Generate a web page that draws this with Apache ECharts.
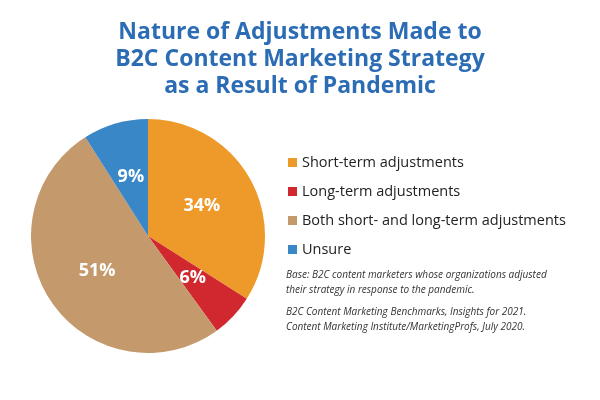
<!DOCTYPE html>
<html><head><meta charset="utf-8">
<script src="https://cdn.jsdelivr.net/npm/echarts@6/dist/echarts.min.js"></script>
<style>html,body{margin:0;padding:0;background:#fff}#c{width:600px;height:400px}</style>
</head><body><div id="c"></div>
<script>
const categories = ["Short-term adjustments","Long-term adjustments","Both short- and long-term adjustments","Unsure"];
const values = [34, 6, 51, 9];
const colors = ["#EE9A2A","#D0282E","#C49A6C","#3A87C8"];
const chart = echarts.init(document.getElementById('c'));
chart.setOption({
  animation:false,
  title:{text:"Nature of Adjustments Made to\nB2C Content Marketing Strategy\nas a Result of Pandemic",left:'center',top:14,
    textStyle:{color:'#2B6CB5',fontSize:23,fontWeight:'bold',lineHeight:27,fontFamily:'Open Sans'}},
  legend:{orient:'vertical',left:283,top:150,itemWidth:9,itemHeight:9,itemGap:14,icon:'rect',
    textStyle:{fontSize:14.5,color:'#222',fontFamily:'Open Sans'},data:categories},
  graphic:[
    {type:'text',left:286,top:268,style:{text:"Base: B2C content marketers whose organizations adjusted\ntheir strategy in response to the pandemic.",fontSize:10,fontStyle:'italic',lineHeight:15,fill:'#333',fontFamily:'Open Sans'}},
    {type:'text',left:286,top:305,style:{text:"B2C Content Marketing Benchmarks, Insights for 2021.\nContent Marketing Institute/MarketingProfs, July 2020.",fontSize:10,fontStyle:'italic',lineHeight:15,fill:'#333',fontFamily:'Open Sans'}}
  ],
  series:[{type:'pie',center:[148,236],radius:[0,117],startAngle:90,clockwise:true,
    label:{position:'inside',color:'#fff',fontSize:18,fontWeight:'bold',fontFamily:'Open Sans',formatter:'{c}%'},
    labelLine:{show:false},
    itemStyle:{borderColor:'#fff',borderWidth:0},
    data:categories.map((n,i)=>({name:n,value:values[i],itemStyle:{color:colors[i]}}))}]
});
</script></body></html>
